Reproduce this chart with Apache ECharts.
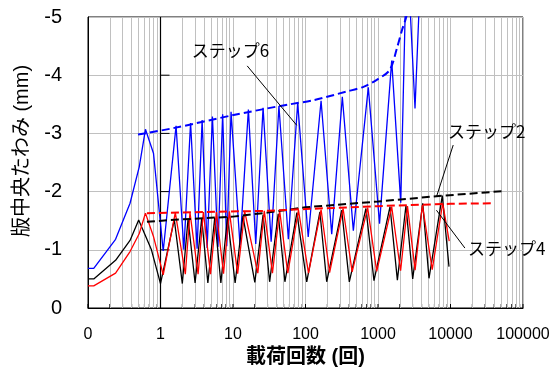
<!DOCTYPE html>
<html>
<head>
<meta charset="utf-8">
<script src="https://cdn.jsdelivr.net/npm/echarts@6/dist/echarts.min.js"></script>
<style>html,body{margin:0;padding:0;background:#fff;}#c{width:560px;height:367px;}</style>
</head>
<body>
<div id="c"></div>
<script>
// ---- Data (cycles = 載荷回数, defl = 版中央たわみ mm) ----
const xTickLabels = ['0', '1', '10', '100', '1000', '10000', '100000'];
const yTicks = [0, -1, -2, -3, -4, -5];
const yTitle = '版中央たわみ (mm)';
const xTitle = '載荷回数 (回)';

// Step 2 (black)
const cycles2 = [0.1, 0.12, 0.24, 0.38, 0.5, 0.75, 1, 1.55, 2, 2.4, 3, 3.7, 4.5, 5.6, 6.8, 8.4, 10.7, 13.7, 20, 26, 32, 42, 52, 76, 104, 158, 196, 316, 402, 682, 880, 1465, 1850, 2430, 3010, 4140, 5050, 7710, 9530];
const defl2 = [-0.50, -0.50, -0.82, -1.16, -1.51, -1.00, -0.42, -1.52, -0.42, -1.53, -0.43, -1.54, -0.43, -1.55, -0.43, -1.56, -0.43, -1.58, -0.44, -1.60, -0.45, -1.62, -0.45, -1.64, -0.45, -1.65, -0.45, -1.68, -0.45, -1.71, -0.47, -1.74, -0.48, -1.76, -0.50, -1.80, -0.51, -1.93, -0.71];

// Step 4 (red)
const cycles4 = [0.1, 0.12, 0.24, 0.38, 0.51, 0.62, 0.8, 1.09, 1.6, 2.2, 2.55, 3.3, 3.9, 4.9, 5.9, 7.4, 8.9, 11.6, 14.5, 22, 27, 35, 44, 57, 80, 110, 164, 215, 330, 440, 720, 960, 1545, 2050, 2550, 3250, 4100, 5600, 7800, 9600];
const defl4 = [-0.38, -0.38, -0.60, -0.97, -1.28, -1.63, -1.23, -0.57, -1.64, -0.58, -1.64, -0.58, -1.65, -0.58, -1.65, -0.59, -1.66, -0.59, -1.66, -0.60, -1.67, -0.60, -1.67, -0.60, -1.68, -0.60, -1.69, -0.61, -1.71, -0.62, -1.72, -0.63, -1.74, -0.64, -1.75, -0.65, -1.77, -0.66, -1.80, -1.15];

// Step 6 (blue)
const cycles6 = [0.1, 0.12, 0.24, 0.38, 0.51, 0.62, 0.8, 1.09, 1.64, 2.1, 2.6, 3.2, 3.75, 4.4, 5.2, 6.2, 7.2, 8.2, 9.4, 12.5, 16.3, 20.6, 26, 33.6, 43, 58, 78, 109, 164, 230, 322, 457, 735, 1050, 1545, 2060, 2500, 3240, 3900];
const defl6 = [-0.68, -0.68, -1.18, -1.80, -2.43, -3.07, -2.66, -0.98, -3.13, -1.00, -3.18, -1.02, -3.23, -1.03, -3.29, -1.05, -3.33, -1.06, -3.37, -1.08, -3.41, -1.10, -3.44, -1.14, -3.47, -1.18, -3.52, -1.22, -3.56, -1.27, -3.63, -1.33, -3.79, -1.45, -4.25, -1.81, -6.3, -3.43, -5.9];

// Dashed envelopes
const envCycles2 = [0.65, 1.3, 10, 30, 100, 1000, 6400, 55000];
const envDefl2 = [-1.48, -1.51, -1.57, -1.64, -1.73, -1.83, -1.92, -2.01];
const envCycles4 = [0.65, 30, 100, 1000, 10000, 39000];
const envDefl4 = [-1.63, -1.67, -1.70, -1.75, -1.79, -1.80];
const envCycles6 = [0.49, 1.5, 10.6, 40, 61, 128, 370, 630, 960, 1450, 1850, 2150, 2450, 2700];
const envDefl6 = [-2.98, -3.09, -3.32, -3.46, -3.50, -3.57, -3.72, -3.80, -3.92, -4.09, -4.49, -4.78, -5.0, -5.3];

// Annotation labels
const annoText = ['ステップ6', 'ステップ2', 'ステップ4'];
const annoPos = [[2.69, -4.43], [9240, -3.03], [17400, -1.03]];
const annoLine = [[[15.7, -4.16], [75.6, -3.14]], [[10900, -2.80], [6400, -1.91]], [[6400, -1.68], [15800, -1.03]]];

const pair = (xs, ys) => xs.map((x, i) => [x, ys[i]]);

// minor log positions
const minorX = [];
for (let d = -1; d <= 4; d++) for (let k = 2; k <= 9; k++) minorX.push(+(k * Math.pow(10, d)).toPrecision(3));
const allTickX = [];
for (let d = -1; d <= 5; d++) allTickX.push(+Math.pow(10, d).toPrecision(3));
minorX.forEach(v => allTickX.push(v));

const FONT = "'Liberation Sans', Arial, 'Noto Sans CJK JP', sans-serif";
const chart = echarts.init(document.getElementById('c'), null, {renderer: 'canvas'});

const option = {
  animation: false,
  backgroundColor: '#fff',
  grid: {left: 88, right: 37, top: 17, bottom: 59, containLabel: false, outerBoundsMode: 'none',
    show: true, borderColor: '#000', borderWidth: 1, backgroundColor: 'transparent'},
  xAxis: {
    type: 'log', logBase: 10, min: 0.1, max: 100000, splitNumber: 6,
    name: xTitle, nameLocation: 'middle', nameGap: 32,
    nameTextStyle: {fontFamily: FONT, fontSize: 20, fontWeight: 'bold', color: '#000'},
    axisLine: {show: true, lineStyle: {color: '#000', width: 1}},
    axisTick: {show: false},
    axisLabel: {
      fontFamily: FONT, fontSize: 16, color: '#000', margin: 19,
      formatter: function (v) { const e = Math.round(Math.log10(v)); return xTickLabels[e + 1]; }
    },
    splitLine: {show: true, lineStyle: {color: '#c0c0c0', width: 1}}
  },
  yAxis: {
    type: 'value', inverse: true, min: -5, max: 0, interval: 1,
    axisLine: {show: true, lineStyle: {color: '#000', width: 1}},
    axisTick: {show: false},
    axisLabel: {fontFamily: FONT, fontSize: 20, color: '#000', margin: 26},
    splitLine: {show: true, lineStyle: {color: '#c0c0c0', width: 1}}
  },
  series: [
    {
      type: 'line', data: [], silent: true, z: 1,
      markLine: {
        silent: true, symbol: 'none', label: {show: false}, animation: false,
        lineStyle: {color: '#c0c0c0', width: 1, type: 'solid'},
        data: minorX.map(v => ({xAxis: v})).concat([{xAxis: 1, lineStyle: {color: '#000', width: 1.2}}])
      }
    },
    {
      type: 'custom', z: 3, silent: true, clip: false,
      data: allTickX.map(v => [v, 0]),
      renderItem: function (params, api) {
        const p = api.coord([api.value(0), api.value(1)]);
        return {type: 'line', shape: {x1: p[0], y1: p[1], x2: p[0], y2: p[1] - 4}, style: {stroke: '#000', lineWidth: 1}};
      }
    },
    {
      type: 'custom', z: 3, silent: true, clip: false,
      data: yTicks.filter(v => v !== 0 && v !== -5).map(v => [1, v]),
      renderItem: function (params, api) {
        const p = api.coord([api.value(0), api.value(1)]);
        return {type: 'line', shape: {x1: p[0], y1: p[1], x2: p[0] + 9, y2: p[1]}, style: {stroke: '#000', lineWidth: 1}};
      }
    },
    {name: 'ステップ6', type: 'line', data: pair(cycles6, defl6), showSymbol: false, symbol: 'none', z: 5,
      lineStyle: {color: '#0000ff', width: 1.3}},
    {name: 'ステップ2', type: 'line', data: pair(cycles2, defl2), showSymbol: false, symbol: 'none', z: 6,
      lineStyle: {color: '#000000', width: 1.3}},
    {name: 'ステップ4', type: 'line', data: pair(cycles4, defl4), showSymbol: false, symbol: 'none', z: 7,
      lineStyle: {color: '#ff0000', width: 1.3}},
    {type: 'line', data: pair(envCycles6, envDefl6), showSymbol: false, symbol: 'none', z: 8, smooth: 0.3,
      lineStyle: {color: '#0000ff', width: 2, type: [8, 4]}},
    {type: 'line', data: pair(envCycles2, envDefl2), showSymbol: false, symbol: 'none', z: 8,
      lineStyle: {color: '#000000', width: 2, type: [8, 4]}},
    {type: 'line', data: pair(envCycles4, envDefl4), showSymbol: false, symbol: 'none', z: 8,
      lineStyle: {color: '#ff0000', width: 2, type: [8, 4]}}
  ]
};
chart.setOption(option);

const toPx = p => chart.convertToPixel({gridIndex: 0}, p);
const graphics = [];
annoText.forEach((t, i) => {
  const p = toPx(annoPos[i]);
  graphics.push({type: 'text', x: p[0], y: p[1], z: 20,
    style: {text: t, fill: '#000', font: "17px 'Noto Sans CJK JP', sans-serif", textAlign: 'left', textVerticalAlign: 'middle'}});
  const a = toPx(annoLine[i][0]), b = toPx(annoLine[i][1]);
  graphics.push({type: 'line', z: 20, shape: {x1: a[0], y1: a[1], x2: b[0], y2: b[1]}, style: {stroke: '#000', lineWidth: 1}});
});
// rotated y-axis title
graphics.push({type: 'text', x: 22, y: 151, rotation: Math.PI / 2, z: 20,
  style: {text: yTitle, fill: '#000', font: "20px 'Liberation Sans', 'Noto Sans CJK JP', sans-serif", textAlign: 'center', textVerticalAlign: 'middle'}});
chart.setOption({graphic: graphics});
</script>
</body>
</html>
